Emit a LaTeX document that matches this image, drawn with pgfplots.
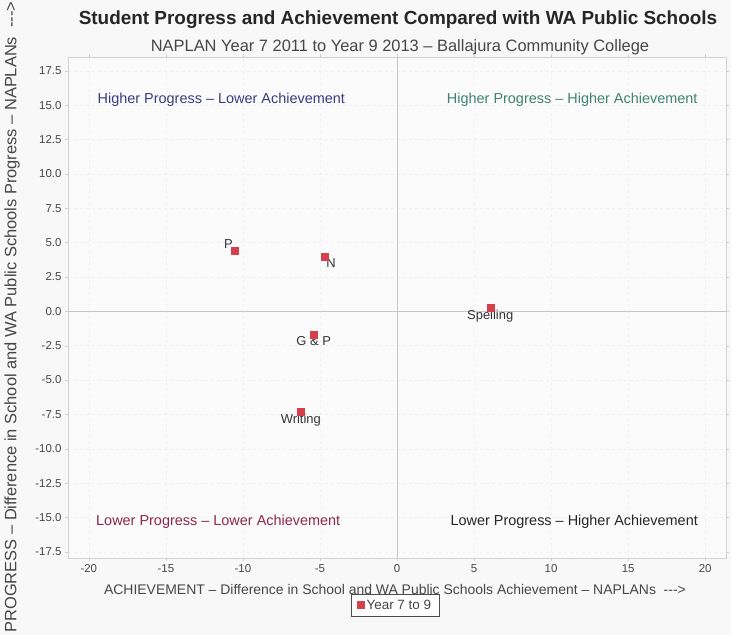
\documentclass[border=0pt]{standalone}
\usepackage{pgfplots}
\pgfplotsset{compat=1.18}
\usepackage{fontspec}
\setmainfont{Liberation Sans}

\definecolor{markred}{RGB}{214,64,76}
\definecolor{qnavy}{RGB}{60,58,130}
\definecolor{qteal}{RGB}{62,130,112}
\definecolor{qmaroon}{RGB}{140,40,72}
\definecolor{txtgray}{RGB}{70,70,70}
\definecolor{bggray}{RGB}{248,248,248}

\pgfplotsset{
    ptlabel/.style={only marks, mark=none, forget plot,
        point meta=explicit symbolic, nodes near coords,
        every node near coord/.append style={anchor=#1, inner sep=1.5pt,
            font=\fontsize{13}{15}\selectfont, text=black!80}},
}

\begin{document}
\begin{tikzpicture}
\path[use as bounding box, fill=bggray] (0bp,0bp) rectangle (731bp,-635bp);

% titles
\node[font=\fontsize{19}{22}\selectfont\bfseries, text=black!85] at (398bp,-20bp) {Student Progress and Achievement Compared with WA Public Schools};
\node[font=\fontsize{16.5}{19}\selectfont, text=txtgray] at (400bp,-47bp) {NAPLAN Year 7 2011 to Year 9 2013 -- Ballajura Community College};
\node[font=\fontsize{14}{16}\selectfont, text=txtgray] at (395bp,-590bp) {ACHIEVEMENT -- Difference in School and WA Public Schools Achievement -- NAPLANs ~{-}{-}{-}>};
\node[font=\fontsize{16.5}{18}\selectfont, text=txtgray, rotate=90] at (12bp,-317bp) {PROGRESS -- Difference in School and WA Public Schools Progress -- NAPLANs ~{-}{-}{-}>};

\begin{axis}[
    at={(68bp,-558bp)}, anchor=south west,
    scale only axis,
    width=658bp, height=501bp,
    xmin=-21.35, xmax=21.35,
    ymin=-17.95, ymax=18.5,
    xtick distance=5,
    ytick distance=2.5,
    yticklabel style={/pgf/number format/.cd, fixed, fixed zerofill, precision=1},
    /pgf/number format/assume math mode=true,
    ticklabel style={font=\fontsize{11.5}{13}\selectfont, text=txtgray},
    tick style={draw=gray!35},
    tick align=outside,
    major tick length=3pt,
    axis line style={draw=gray!35},
    axis background/.style={fill=white!97!gray},
    grid=major,
    major grid style={draw=gray!10, dashed},
    legend style={at={(0.4975,-0.071)}, anchor=north, draw=black!70,
        font=\fontsize{13.5}{15}\selectfont, text=txtgray, fill=white,
        inner xsep=6pt, inner ysep=4pt},
    legend cell align=left,
    clip=false,
]
\draw[gray!45, line width=1pt] (axis cs:0,-17.95) -- (axis cs:0,18.5);
\draw[gray!45, line width=1pt] (axis cs:-21.35,0) -- (axis cs:21.35,0);

\node[text=qnavy, font=\fontsize{14.5}{16}\selectfont] at (axis cs:-11.4,15.4) {Higher Progress -- Lower Achievement};
\node[text=qteal, font=\fontsize{14.5}{16}\selectfont] at (axis cs:11.37,15.4) {Higher Progress -- Higher Achievement};
\node[text=qmaroon, font=\fontsize{14.5}{16}\selectfont] at (axis cs:-11.6,-15.3) {Lower Progress -- Lower Achievement};
\node[text=black!85, font=\fontsize{14.5}{16}\selectfont] at (axis cs:11.5,-15.3) {Lower Progress -- Higher Achievement};

% point labels
\addplot[ptlabel=south east] coordinates {(-10.55,4.42) [P]};
\addplot[ptlabel=north west] coordinates {(-4.70,3.94) [N]};
\addplot[ptlabel=north] coordinates {(-5.41,-1.71) [G \& P] (-6.24,-7.34) [Writing] (6.05,0.23) [Spelling]};

% Year 7 to 9: achievement difference, progress difference
\addplot[only marks, mark=square*, mark size=3.5bp, mark options={draw=markred, fill=markred}]
    coordinates {(-10.55,4.42) (-4.70,3.94) (-5.41,-1.71) (-6.24,-7.34) (6.05,0.23)};
\addlegendentry{Year 7 to 9}
\end{axis}
\end{tikzpicture}
\end{document}
